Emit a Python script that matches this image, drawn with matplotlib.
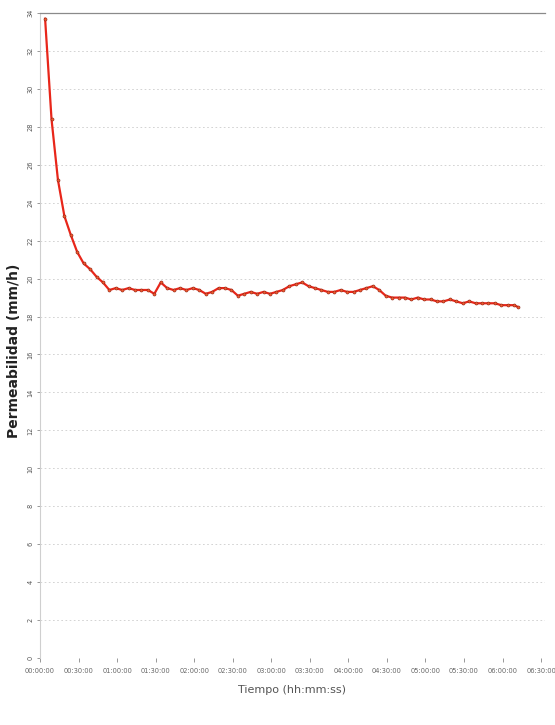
import matplotlib
matplotlib.use("Agg")
import matplotlib.pyplot as plt
from matplotlib.ticker import FixedLocator

# Elapsed time of each reading (minutes) and measured permeability (mm/h)
minutes = [4, 9, 14, 19, 24, 29, 34, 39, 44, 49, 54, 59, 64, 69, 74, 79, 84, 89, 94, 99,
           104, 109, 114, 119, 124, 129, 134, 139, 144, 149, 154, 159, 164, 169, 174, 179,
           184, 189, 194, 199, 204, 209, 214, 219, 224, 229, 234, 239, 244, 249, 254, 259,
           264, 269, 274, 279, 284, 289, 294, 299, 304, 309, 314, 319, 324, 329, 334, 339,
           344, 349, 354, 359, 364, 369, 372]
permeability = [33.7, 28.4, 25.2, 23.3, 22.3, 21.4, 20.8, 20.5, 20.1, 19.8, 19.4, 19.5,
                19.4, 19.5, 19.4, 19.4, 19.4, 19.2, 19.8, 19.5, 19.4, 19.5, 19.4, 19.5,
                19.4, 19.2, 19.3, 19.5, 19.5, 19.4, 19.1, 19.2, 19.3, 19.2, 19.3, 19.2,
                19.3, 19.4, 19.6, 19.7, 19.8, 19.6, 19.5, 19.4, 19.3, 19.3, 19.4, 19.3,
                19.3, 19.4, 19.5, 19.6, 19.4, 19.1, 19.0, 19.0, 19.0, 18.9, 19.0, 18.9,
                18.9, 18.8, 18.8, 18.9, 18.8, 18.7, 18.8, 18.7, 18.7, 18.7, 18.7, 18.6,
                18.6, 18.6, 18.5]

x_ticks_min = [0, 30, 60, 90, 120, 150, 180, 210, 240, 270, 300, 330, 360, 390]
x_tick_labels = ["00:00:00", "00:30:00", "01:00:00", "01:30:00", "02:00:00", "02:30:00",
                 "03:00:00", "03:30:00", "04:00:00", "04:30:00", "05:00:00", "05:30:00",
                 "06:00:00", "06:30:00"]
y_ticks = list(range(0, 35, 2))

fig = plt.figure(figsize=(5.55, 7.25), dpi=100)
ax = fig.add_axes([0.072, 0.0924, 0.910, 0.8896])

ax.plot(minutes, permeability, color="#e8261a", linewidth=1.6, marker="o",
        markersize=2.2, markerfacecolor="#f25a30", markeredgecolor="#8a2010",
        markeredgewidth=0.4, zorder=3)

ax.set_xlim(0, 393)
ax.set_ylim(0, 34)
ax.xaxis.set_major_locator(FixedLocator(x_ticks_min))
ax.set_xticklabels(x_tick_labels, fontsize=4.8, color="#666666")
ax.yaxis.set_major_locator(FixedLocator(y_ticks))
ax.set_yticklabels([str(v) for v in y_ticks], fontsize=4.8, color="#555555",
                   rotation=90, va="center")

ax.grid(axis="y", color="#cccccc", linestyle=(0, (2, 3)), linewidth=0.6)
ax.grid(axis="x", visible=False)

for side in ("right", "bottom"):
    ax.spines[side].set_visible(False)
ax.spines["left"].set_color("#cfcfcf")
ax.spines["left"].set_linewidth(0.8)
ax.spines["top"].set_color("#8a8a8a")
ax.spines["top"].set_linewidth(0.9)

ax.tick_params(axis="x", length=3, width=0.6, color="#888888", pad=4)
ax.tick_params(axis="y", length=2.5, width=0.6, color="#888888", pad=2)

ax.set_xlabel("Tiempo (hh:mm:ss)", fontsize=8, color="#555555", labelpad=8)
ax.set_ylabel("Permeabilidad (mm/h)", fontsize=10, fontweight="bold",
              color="#222222")
ax.yaxis.set_label_coords(-0.038, 0.477)

fig.savefig("out.png", dpi=100, facecolor="white")
